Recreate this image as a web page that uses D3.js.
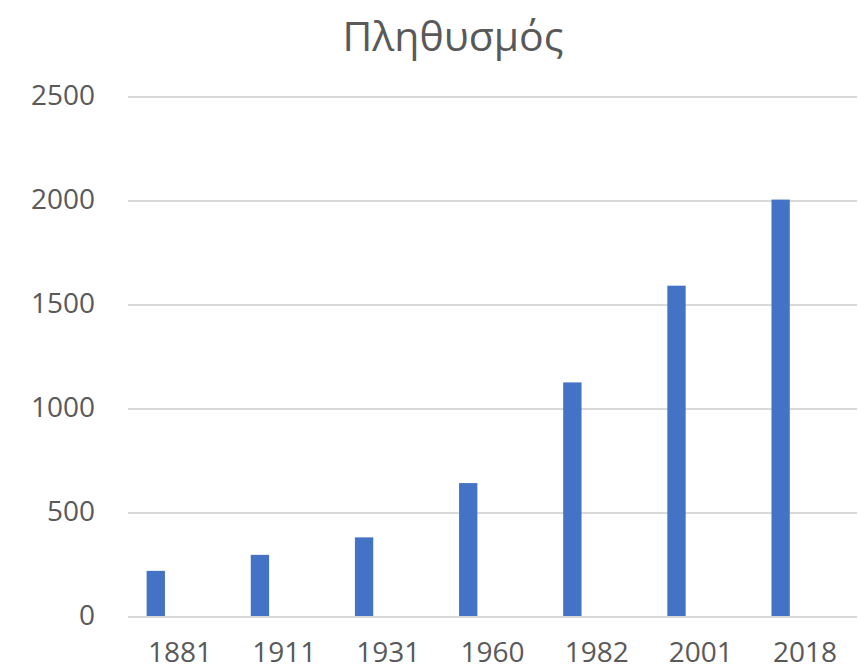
<!DOCTYPE html>
<html lang="el">
<head>
<meta charset="utf-8">
<title>Πληθυσμός</title>
<script src="https://cdn.jsdelivr.net/npm/d3@7"></script>
<style>
  body { margin: 0; background: #fff; }
  .axis path, .axis line { fill: none; stroke: none; }
  .axis text { fill: #595959; font-family: "Open Sans", "Noto Sans", sans-serif; font-size: 28px; }
  .grid line { stroke: #d9d9d9; stroke-width: 2; shape-rendering: crispEdges; }
  .grid path { stroke: none; }
</style>
</head>
<body>
<div id="chart"></div>
<script>
// data
var years = ["1881", "1911", "1931", "1960", "1982", "2001", "2018"];
var population = [217, 294, 378, 639, 1123, 1588, 2002];
var yTicks = [0, 500, 1000, 1500, 2000, 2500];
var title = "Πληθυσμός";

var W = 868, H = 671;
var margin = {top: 96, right: 11, bottom: 55, left: 128};
var width = W - margin.left - margin.right,
    height = H - margin.top - margin.bottom;

var svg = d3.select("#chart").append("svg")
    .attr("width", W)
    .attr("height", H);

var g = svg.append("g")
    .attr("transform", "translate(" + margin.left + "," + margin.top + ")");

var x = d3.scaleBand()
    .domain(years)
    .range([0, width])
    .paddingInner(0.824)
    .paddingOuter(0.412)
    .align(0.217);

// full category slot, for the labels
var xCat = d3.scaleBand().domain(years).range([0, width]);

var y = d3.scaleLinear()
    .domain([0, 2500])
    .range([height, 0]);

// gridlines
g.append("g")
    .attr("class", "grid")
    .call(d3.axisLeft(y).tickValues(yTicks).tickSize(-width).tickFormat(""));

// y axis labels
g.append("g")
    .attr("class", "axis")
    .attr("transform", "translate(-33,0)")
    .call(d3.axisLeft(y).tickValues(yTicks).tickSize(0).tickPadding(0).tickFormat(d3.format("d")));

// bars
g.selectAll("rect.bar")
    .data(years)
  .enter().append("rect")
    .attr("class", "bar")
    .attr("x", function(d) { return x(d); })
    .attr("width", x.bandwidth())
    .attr("y", function(d, i) { return y(population[i]); })
    .attr("height", function(d, i) { return height - y(population[i]); })
    .attr("fill", "#4472c4");

// x axis labels
g.append("g")
    .attr("class", "axis")
    .attr("transform", "translate(0," + height + ")")
    .call(d3.axisBottom(xCat).tickSize(0).tickPadding(26));

// title
svg.append("text")
    .attr("x", 453)
    .attr("y", 51)
    .attr("text-anchor", "middle")
    .style("font-family", "'Open Sans', 'Noto Sans', sans-serif")
    .style("font-size", "41px")
    .style("fill", "#595959")
    .text(title);
</script>
</body>
</html>
